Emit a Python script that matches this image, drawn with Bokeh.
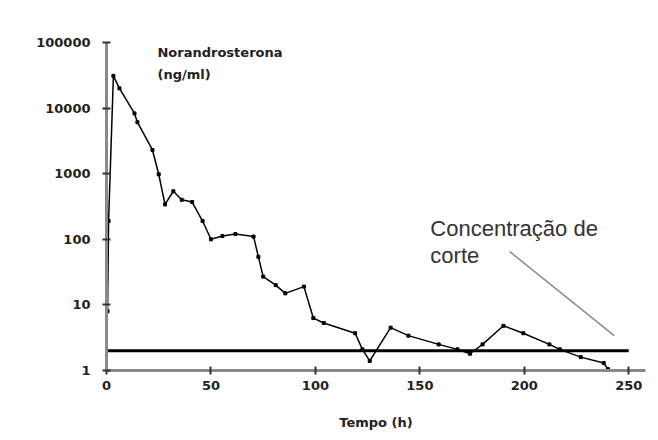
from bokeh.plotting import figure
from bokeh.models import Range1d, FixedTicker, Label
from bokeh.embed import file_html
from bokeh.resources import INLINE

# ---- data ----
time_h = [0.5, 1.0, 3.3, 6.2, 13.4, 14.8, 22, 25, 28, 32,
          36, 41, 46, 50, 55.5, 61.7, 70.4, 72.7, 75, 81,
          85.6, 94.5, 99, 104, 119, 122.5, 126, 136, 144.5, 159,
          168, 174, 180, 190, 199.5, 212, 217, 227, 238, 240]
conc = [8, 190, 31000, 20000, 8300, 6100, 2300, 980, 340, 540,
        400, 370, 190, 100, 112, 120, 110, 54, 27, 20,
        15, 19, 6.3, 5.3, 3.7, 2.1, 1.4, 4.5, 3.4, 2.5,
        2.1, 1.8, 2.5, 4.8, 3.7, 2.5, 2.1, 1.6, 1.3, 1.05]

cutoff_t = [0, 250]
cutoff_v = [2, 2]

arrow_t = [193, 243]
arrow_v = [65, 3.4]

x_ticks = [0, 50, 100, 150, 200, 250]
y_ticks = [1, 10, 100, 1000, 10000, 100000]
y_tick_labels = ["1", "10", "100", "1000", "10000", "100000"]

p = figure(width=650, height=432, output_backend="svg", toolbar_location=None,
           y_axis_type="log",
           x_range=Range1d(0, 258), y_range=Range1d(1, 100000),
           min_border_left=106, min_border_right=5,
           min_border_top=42, min_border_bottom=59)
p.background_fill_color = "white"
p.border_fill_color = "white"
p.outline_line_color = None
p.xgrid.visible = False
p.ygrid.visible = False

font = "DejaVu Sans"

p.xaxis.ticker = FixedTicker(ticks=x_ticks)
p.yaxis.ticker = FixedTicker(ticks=y_ticks)
p.yaxis.major_label_overrides = {v: s for v, s in zip(y_ticks, y_tick_labels)}

for ax in (p.xaxis, p.yaxis):
    ax.axis_line_color = "#8a8a8a"
    ax.major_tick_line_color = "#333333"
    ax.major_tick_line_width = 2
    ax.major_tick_in = 4
    ax.major_tick_out = 4
    ax.minor_tick_line_color = None
    ax.major_label_text_font = font
    ax.major_label_text_font_style = "bold"
    ax.major_label_text_font_size = "13px"
    ax.major_label_text_color = "#222222"

p.xaxis.axis_line_width = 3
p.yaxis.axis_line_width = 3
p.yaxis.major_label_standoff = 12
p.xaxis.major_label_standoff = 6

p.xaxis.axis_label = "Tempo (h)"
p.xaxis.axis_label_text_font = font
p.xaxis.axis_label_text_font_style = "bold"
p.xaxis.axis_label_text_font_size = "13px"
p.xaxis.axis_label_text_color = "#222222"
p.xaxis.axis_label_standoff = 22

# cutoff line
p.line(cutoff_t, cutoff_v, line_color="black", line_width=3)

# pointer line from the annotation to the cutoff line
p.line(arrow_t, arrow_v, line_color="#8a8a8a", line_width=1.5)

# data series
p.line(time_h, conc, line_color="black", line_width=1.5)
p.scatter(time_h, conc, marker="square", size=3, color="black")

p.add_layout(Label(x=24.4, y=93000, text="Norandrosterona\n(ng/ml)",
                   text_font=font, text_font_style="bold", text_font_size="13px",
                   text_color="#222222", text_baseline="top", text_align="left",
                   text_line_height=1.5))

p.add_layout(Label(x=155, y=227, text="Concentração de\ncorte",
                   text_font="Liberation Sans", text_font_size="22px",
                   text_color="#333333", text_baseline="top", text_align="left",
                   text_line_height=1.1))

open("out.html", "w").write(file_html(p, INLINE))
